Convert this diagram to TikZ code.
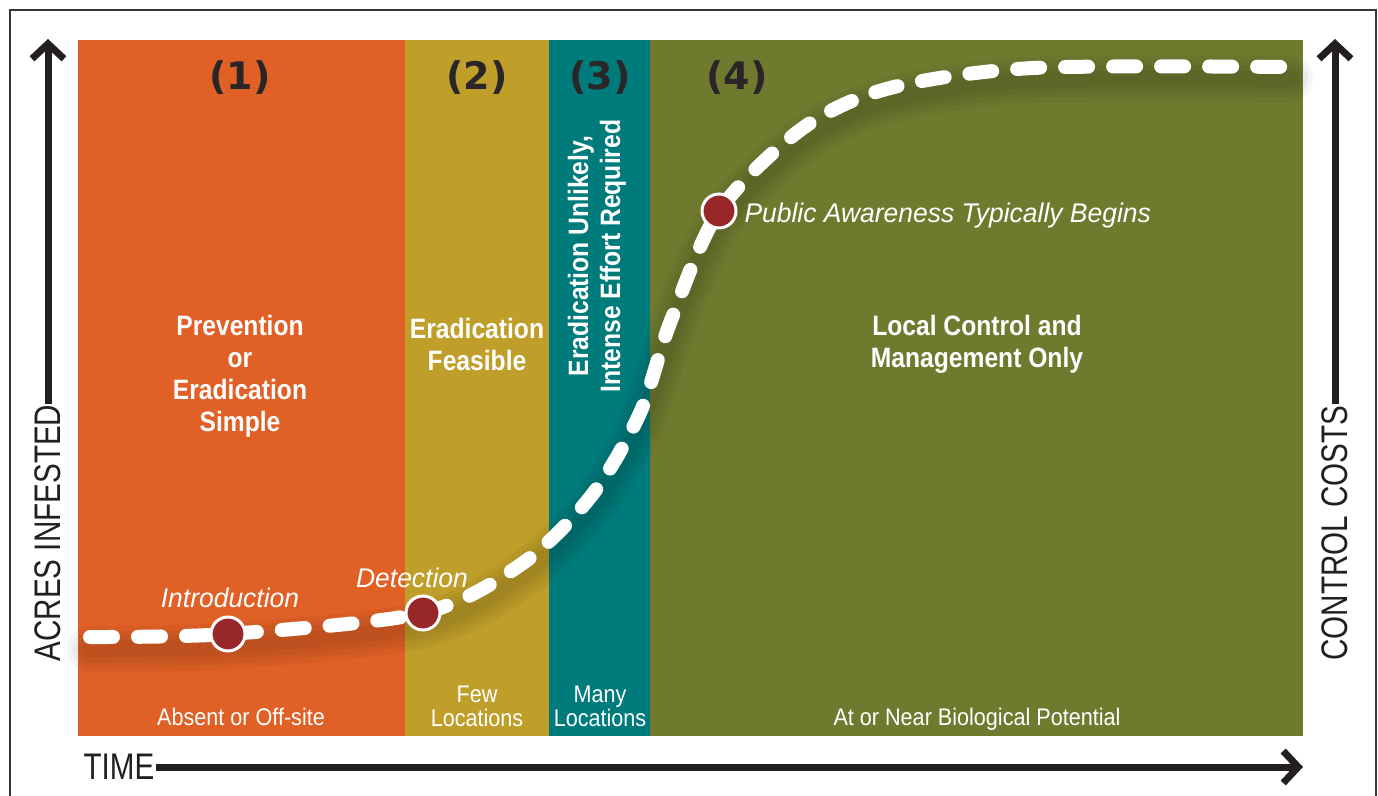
\documentclass[tikz,border=0pt]{standalone}
\usepackage{fontspec}
\usetikzlibrary{arrows.meta}
\newfontfamily\boldcond[FakeStretch=0.88]{Liberation Sans Bold}
\newfontfamily\regcond[FakeStretch=0.9]{Liberation Sans}
\newfontfamily\itcond[FakeStretch=0.98]{Liberation Sans Italic}
\newfontfamily\axisfont[FakeStretch=0.8]{Liberation Sans}
\newfontfamily\numfont{DejaVu Sans Bold}
\definecolor{zoneorange}{HTML}{E06026}
\definecolor{zonegold}{HTML}{BF9E2A}
\definecolor{zoneteal}{HTML}{007B7C}
\definecolor{zonegreen}{HTML}{6F7A2F}
\definecolor{dotred}{HTML}{98272A}
\definecolor{numgray}{HTML}{2A2627}
\definecolor{axisblack}{HTML}{231F20}
\tikzset{
  zonelabel/.style={text=white, font=\boldcond\fontsize{28}{32}\selectfont, align=center},
  zonenum/.style={text=numgray, font=\numfont\fontsize{38}{40}\selectfont},
  spreadlabel/.style={text=white, font=\regcond\fontsize{24}{24}\selectfont, align=center},
  eventlabel/.style={text=white, font=\itcond\fontsize{27}{30}\selectfont},
  stagedot/.style={circle, fill=dotred, draw=white, line width=3pt, minimum size=34pt, inner sep=0pt},
  axislabel/.style={text=axisblack, font=\axisfont\fontsize{37}{40}\selectfont, inner sep=1pt},
  axisarrow/.style={draw=axisblack, line width=7pt, -{Straight Barb[length=15pt,width=32pt]}},
  spreadline/.style={white, line width=14pt, line cap=round, dash pattern=on 23pt off 25pt},
  curveshadow/.style={black, opacity=0.04, line cap=round},
}
\begin{document}
\begin{tikzpicture}[x=1pt, y=-1pt]
    \useasboundingbox (0,0) rectangle (1378,795);
    \draw[axisblack!90, line width=1.2pt] (10,10) rectangle (1376,805);

    % zones
    \fill[zoneorange] (78,40) rectangle (405,736);
    \fill[zonegold] (405,40) rectangle (549,736);
    \fill[zoneteal] (549,40) rectangle (650,736);
    \fill[zonegreen] (650,40) rectangle (1303,736);

    \node[zonenum] (n1) at (240,78) {(1)};
    \node[zonenum] (n2) at (477,78) {(2)};
    \node[zonenum] (n3) at (600,78) {(3)};
    \node[zonenum] (n4) at (737,78) {(4)};

    \node[zonelabel] (prevent) at (240,376) {Prevention\\or\\Eradication\\Simple};
    \node[zonelabel] (feasible) at (477,344) {Eradication\\Feasible};
    \node[zonelabel, rotate=90] (unlikely) at (597,256) {Eradication Unlikely,\\Intense Effort Required};
    \node[zonelabel] (local) at (977,344) {Local Control and\\Management Only};

    \node[spreadlabel] (absent) at (241,717) {Absent or Off-site};
    \node[spreadlabel] (few) at (477,706) {Few\\Locations};
    \node[spreadlabel] (many) at (600,706) {Many\\Locations};
    \node[spreadlabel] (potential) at (977,719) {At or Near Biological Potential};

    % invasion curve
    \coordinate (c0) at (90,637);
    \coordinate (c1) at (228,634);
    \coordinate (c2) at (423,613);
    \coordinate (c3) at (523,563);
    \coordinate (c4) at (592,495);
    \coordinate (c5) at (640,413);
    \coordinate (c6) at (670,323);
    \coordinate (c7) at (719,211);
    \coordinate (c8) at (803,128);
    \coordinate (c9) at (890,88);
    \coordinate (c10) at (1033,68);
    \coordinate (c11) at (1290,67);
    \begin{scope}[transform canvas={yshift=-12pt}]
      \foreach \w in {46,36,26,16}
        \draw[curveshadow, line width=\w pt]
          plot[smooth] coordinates {(c0) (c1) (c2) (c3) (c4) (c5) (c6) (c7) (c8) (c9) (c10) (c11)};
    \end{scope}
    \draw[spreadline]
      plot[smooth] coordinates {(c0) (c1) (c2) (c3) (c4) (c5) (c6) (c7) (c8) (c9) (c10) (c11)};

    \node[stagedot] (intro) at (c1) {};
    \node[stagedot] (detect) at (c2) {};
    \node[stagedot] (aware) at (c7) {};
    \node[eventlabel] (introlbl) at (230,598) {Introduction};
    \node[eventlabel] (detectlbl) at (412,578) {Detection};
    \node[eventlabel, anchor=west] (awarelbl) at (741,216) {Public Awareness Typically Begins};

    % axes
    \node[axislabel, rotate=90] (acres) at (48,533) {ACRES INFESTED};
    \node[axislabel, rotate=90] (costs) at (1335,533) {CONTROL COSTS};
    \node[axislabel] (time) at (119,767) {TIME};
    \coordinate (acrestip) at (48,39);
    \coordinate (coststip) at (1335,39);
    \coordinate (timetip) at (1303,767);
    \draw[axisarrow] (acres.east) -- (acrestip);
    \draw[axisarrow] (costs.east) -- (coststip);
    \draw[axisarrow] (time.east) -- (timetip);
  \end{tikzpicture}
\end{document}
